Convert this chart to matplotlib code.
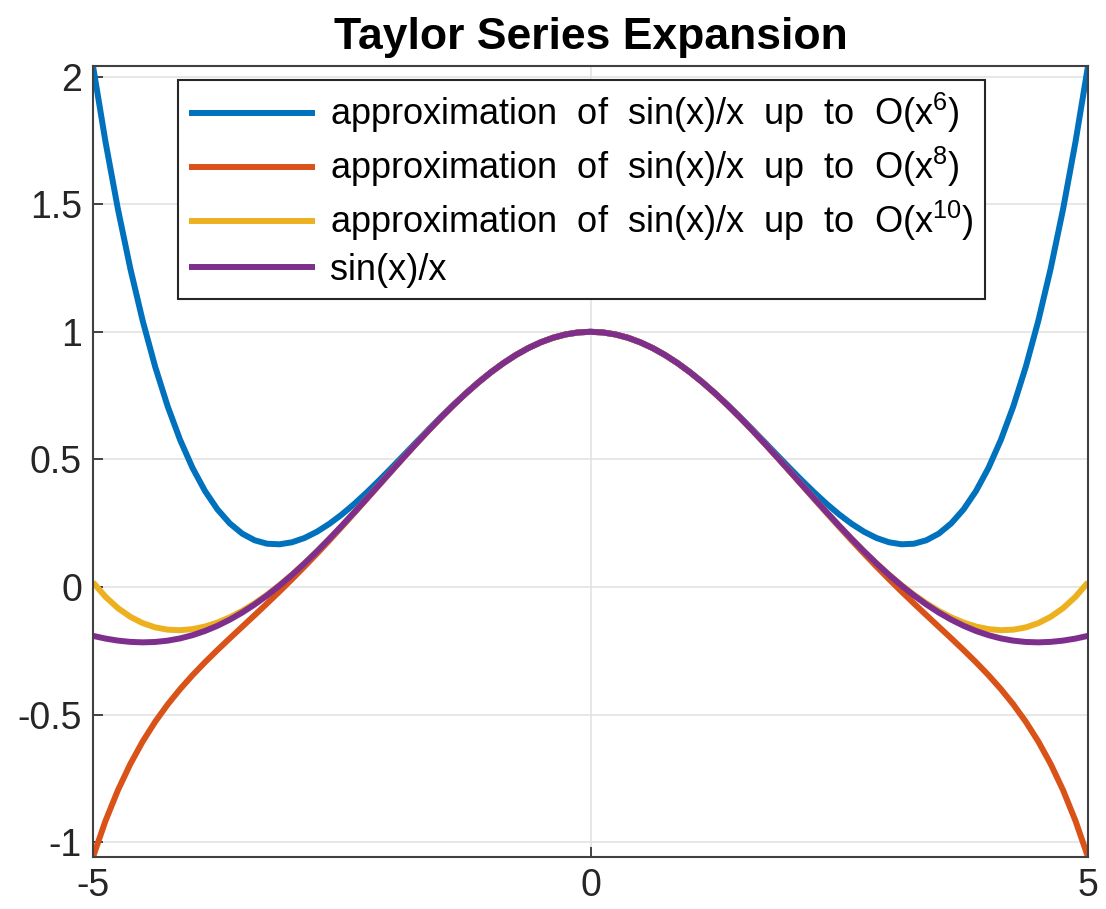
import numpy as np
import matplotlib
matplotlib.use('Agg')
from matplotlib import pyplot as plt

plt.rcParams['font.family'] = ['Liberation Sans', 'DejaVu Sans']
plt.rcParams['mathtext.fontset'] = 'custom'
plt.rcParams['mathtext.rm'] = 'Liberation Sans'

# values, x = -5 ... 5 in steps of 0.125
x_vals = np.arange(-40, 41) * 0.125

half_o6 = [1.0, .99740, .98962, .97673, .95885, .93617, .90889, .87728, .84167,
           .80241, .75993, .71468, .66719, .61800, .56774, .51706, .46667,
           .41732, .36982, .32503, .28385, .24724, .21618, .19173, .175,
           .16712, .16930, .18278, .20885, .24885, .30420, .37631, .46667,
           .57683, .70837, .86293, 1.04219, 1.24789, 1.48180, 1.74577, 2.04167]
half_o8 = [1.0, .99740, .98962, .97673, .95885, .93616, .90885, .87719, .84147,
           .80201, .75917, .71334, .66493, .61435, .56204, .50844, .45397,
           .39905, .34408, .28943, .23541, .18232, .13036, .07969, .03036,
           -.01766, -.06451, -.11045, -.15588, -.20136, -.24757, -.29543, -.34603,
           -.40067, -.46087, -.52843, -.60538, -.69406, -.79713, -.91752, -1.05853]
half_o10 = [1.0, .99740, .98962, .97673, .95885, .93616, .90885, .87719, .84147,
            .80202, .75919, .71338, .66500, .61448, .56228, .50886, .45467,
            .40020, .34589, .29222, .23962, .18853, .13938, .09255, .04844,
            .00740, -.03021, -.06406, -.09383, -.11919, -.13980, -.15534, -.16543,
            -.16966, -.16754, -.15855, -.14200, -.11713, -.08299, -.03843, .01797]
half_sinc = [1.0, .99740, .98962, .97673, .95885, .93616, .90885, .87719, .84147,
             .80202, .75919, .71338, .66500, .61448, .56228, .50885, .45465,
             .40015, .34581, .29208, .23939, .18816, .13879, .09163, .04704,
             .00531, -.03329, -.06853, -.10022, -.12822, -.15242, -.17275, -.18920,
             -.20179, -.21059, -.21568, -.21723, -.21539, -.21038, -.20242, -.19178]

# curves are symmetric, mirror the right half
y_o6 = half_o6[:0:-1] + half_o6
y_o8 = half_o8[:0:-1] + half_o8
y_o10 = half_o10[:0:-1] + half_o10
y_sinc = half_sinc[:0:-1] + half_sinc

labels = ['approximation  of  sin(x)/x  up  to  O(x$^{6}$)',
          'approximation  of  sin(x)/x  up  to  O(x$^{8}$)',
          'approximation  of  sin(x)/x  up  to  O(x$^{10}$)',
          'sin(x)/x']
colors = ['#0072BD', '#D95319', '#EDB120', '#7E2F8E']

fig = plt.figure(figsize=(11.06, 9.09), dpi=100)
ax = fig.add_axes([93/1106, 1 - 857/909, (1088 - 93)/1106, (857 - 66)/909])

for y, lab, c in zip([y_o6, y_o8, y_o10, y_sinc], labels, colors):
    ax.plot(x_vals, y, color=c, linewidth=4.3, label=lab,
            solid_joinstyle='round', solid_capstyle='butt')

ax.set_xlim(-5, 5)
ax.set_ylim(-1.0585, 2.0417)
ax.set_xticks([-5, 0, 5])
ax.set_xticklabels(['-5', '0', '5'])
ax.set_yticks([-1, -0.5, 0, 0.5, 1, 1.5, 2])
ax.set_yticklabels(['-1', '-0.5', '0', '0.5', '1', '1.5', '2'])
ax.grid(True, color='#e3e3e3', linewidth=1.2)
ax.set_axisbelow(True)
for s in ax.spines.values():
    s.set_color('#404040')
    s.set_linewidth(1.5)
ax.tick_params(labelsize=27, colors='#262626', direction='in', length=7,
               width=1.2, pad=8)
ax.tick_params(axis='x', pad=8)

ax.set_title('Taylor Series Expansion', fontsize=32, fontweight='bold', pad=12)

leg = ax.legend(loc='upper left', bbox_to_anchor=(0.0854, 0.982), borderaxespad=0,
                fontsize=26, frameon=True, fancybox=False, framealpha=1,
                edgecolor='#262626', handlelength=3.5, handletextpad=0.42,
                borderpad=0.3, labelspacing=0.27)
leg.get_frame().set_linewidth(1.5)

fig.savefig('out.png', dpi=100)
